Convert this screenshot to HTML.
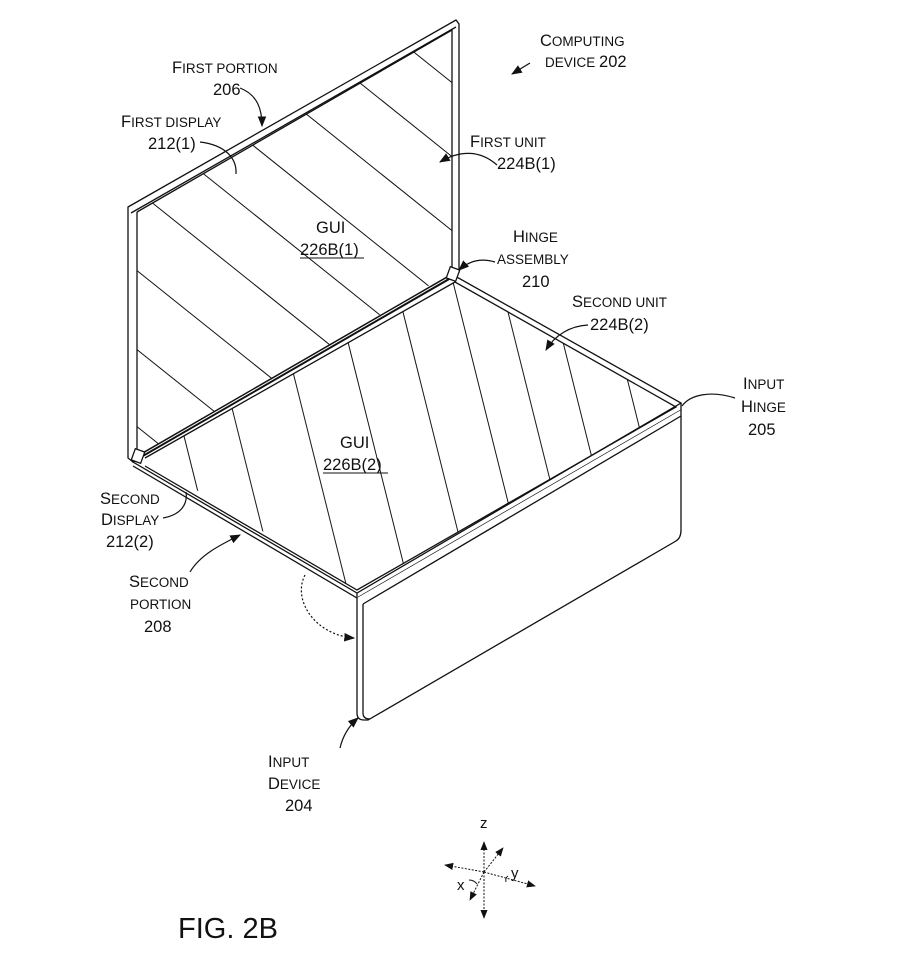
<!DOCTYPE html>
<html><head><meta charset="utf-8"><style>
html,body{margin:0;padding:0;background:#fff}
svg{display:block}
text{font-family:"Liberation Sans",sans-serif;fill:#111}
.sc{font-size:16.5px}
.s{font-size:13.5px}
</style></head><body>
<svg width="903" height="956" viewBox="0 0 903 956" xmlns="http://www.w3.org/2000/svg">
<defs>
<clipPath id="lid"><polygon points="137,212 452,30 452,272 137,458"/></clipPath>
<clipPath id="base"><polygon points="145,458 455,282 676,407 357,590"/></clipPath>
<marker id="ar" viewBox="0 0 10 10" refX="9" refY="5" markerWidth="9" markerHeight="9" orient="auto-start-reverse"><path d="M0,1 L10,5 L0,9 z" fill="#111"/></marker>
</defs>
<g stroke="#111" fill="none" stroke-width="1.3">
<polygon points="128,207 456,20 459,24 459,272 452,276 133,462 128,458" fill="#fff"/>
<polyline points="131,213 456,27"/>
<polyline points="137,212 452,30 452,272"/>
<line x1="137" y1="212" x2="137" y2="458"/>
<g clip-path="url(#lid)" stroke-width="1">
<line x1="100" y1="-199" x2="500" y2="121"/>
<line x1="100" y1="-125" x2="500" y2="195"/>
<line x1="100" y1="-51" x2="500" y2="269"/>
<line x1="100" y1="23" x2="500" y2="343"/>
<line x1="100" y1="91" x2="500" y2="411"/>
<line x1="100" y1="161" x2="500" y2="481"/>
<line x1="100" y1="241" x2="500" y2="561"/>
<line x1="100" y1="320" x2="500" y2="640"/>
<line x1="100" y1="397" x2="500" y2="717"/>
</g>
<polygon points="133,462 455,276 681,403 357,593" fill="#fff"/>
<polyline points="145,458 455,282 676,407 357,590 145,466"/>
<g clip-path="url(#base)" stroke-width="1">
<line x1="180" y1="420" x2="230" y2="620"/>
<line x1="230" y1="400" x2="290" y2="640"/>
<line x1="290" y1="360" x2="355" y2="620"/>
<line x1="345" y1="330" x2="415" y2="610"/>
<line x1="400" y1="300" x2="475" y2="600"/>
<line x1="450" y1="270" x2="535" y2="610"/>
<line x1="500" y1="280" x2="590" y2="640"/>
<line x1="550" y1="290" x2="640" y2="650"/>
<line x1="615" y1="330" x2="700" y2="670"/>
</g>
<line x1="140" y1="456" x2="453" y2="275" stroke-width="4"/>
<line x1="140" y1="456" x2="453" y2="275" stroke="#fff" stroke-width="1"/>
<rect x="448" y="268" width="10" height="12" fill="#fff" transform="rotate(20 453 274)"/>
<rect x="133" y="450" width="10" height="12" fill="#fff" transform="rotate(20 138 456)"/>
<polyline points="133,466 357,598 681,410"/>
<line x1="357" y1="593" x2="357" y2="598"/>
<line x1="681" y1="403" x2="681" y2="410"/>
<path d="M357,598 L357,713 Q357,720 364,720 L368,720 L676,541 Q681,538 681,530 L681,410" fill="#fff"/>
<path d="M363,604 L363,713 Q363,719 370,719" />
<line x1="363" y1="604" x2="681" y2="416"/>
<path d="M240,88 C258,95 262,110 262,126" marker-end="url(#ar)" stroke-width="1.2"/>
<path d="M200,142 C225,145 237,158 236,174" stroke-width="1.2"/>
<path d="M497,165 C480,150 460,150 440,162" marker-end="url(#ar)" stroke-width="1.2"/>
<path d="M530,63 L512,74" marker-end="url(#ar)" stroke-width="1.2"/>
<path d="M495,262 C482,258 470,260 459,270" marker-end="url(#ar)" stroke-width="1.2"/>
<path d="M588,325 C570,326 555,335 546,350" marker-end="url(#ar)" stroke-width="1.2"/>
<path d="M735,398 C710,390 690,395 682,406" stroke-width="1.2"/>
<path d="M163,518 C180,515 188,505 186,492" stroke-width="1.2"/>
<path d="M190,572 C200,555 220,545 240,535" marker-end="url(#ar)" stroke-width="1.2"/>
<path d="M305,575 C292,600 315,635 354,638" marker-end="url(#ar)" stroke-width="1.2" stroke-dasharray="2,2"/>
<path d="M340,748 C343,735 350,725 358,718" marker-end="url(#ar)" stroke-width="1.2"/>
<g stroke-width="1" stroke-dasharray="2,1.5">
<line x1="484" y1="872" x2="484" y2="842" marker-end="url(#ar)"/>
<line x1="484" y1="872" x2="484" y2="918" marker-end="url(#ar)"/>
<line x1="484" y1="872" x2="445" y2="865" marker-end="url(#ar)"/>
<line x1="484" y1="872" x2="535" y2="886" marker-end="url(#ar)"/>
<line x1="484" y1="872" x2="503" y2="848" marker-end="url(#ar)"/>
<line x1="484" y1="872" x2="470" y2="900" marker-end="url(#ar)"/>
</g>
<path d="M469,880 q5,0 8,4" stroke-width="1"/>
<path d="M508,876 q-3,2 -2,6" stroke-width="1"/>
</g>
<text x="540" y="46" class="sc">C<tspan class="s">OMPUTING</tspan></text>
<text x="545" y="67" class="s">DEVICE <tspan class="sc">202</tspan></text>
<text x="172" y="73" class="sc">F<tspan class="s">IRST PORTION</tspan></text>
<text x="213" y="95" class="sc">206</text>
<text x="121" y="127" class="sc">F<tspan class="s">IRST DISPLAY</tspan></text>
<text x="148" y="149" class="sc">212(1)</text>
<text x="470" y="147" class="sc">F<tspan class="s">IRST UNIT</tspan></text>
<text x="497" y="169" class="sc">224B(1)</text>
<text x="316" y="233" class="sc">GUI</text>
<text x="300" y="255" class="sc">226B(1)</text>
<line x1="300" y1="258" x2="364" y2="258" stroke="#111" stroke-width="1"/>
<text x="513" y="242" class="sc">H<tspan class="s">INGE</tspan></text>
<text x="497" y="264" class="s">ASSEMBLY</text>
<text x="522" y="287" class="sc">210</text>
<text x="572" y="307" class="sc">S<tspan class="s">ECOND UNIT</tspan></text>
<text x="590" y="330" class="sc">224B(2)</text>
<text x="743" y="389" class="sc">I<tspan class="s">NPUT</tspan></text>
<text x="741" y="412" class="sc">H<tspan class="s">INGE</tspan></text>
<text x="748" y="435" class="sc">205</text>
<text x="340" y="448" class="sc">GUI</text>
<text x="323" y="470" class="sc">226B(2)</text>
<line x1="323" y1="473" x2="388" y2="473" stroke="#111" stroke-width="1"/>
<text x="100" y="504" class="sc">S<tspan class="s">ECOND</tspan></text>
<text x="101" y="525" class="sc">D<tspan class="s">ISPLAY</tspan></text>
<text x="106" y="547" class="sc">212(2)</text>
<text x="129" y="587" class="sc">S<tspan class="s">ECOND</tspan></text>
<text x="130" y="609" class="s">PORTION</text>
<text x="144" y="632" class="sc">208</text>
<text x="268" y="767" class="sc">I<tspan class="s">NPUT</tspan></text>
<text x="268" y="789" class="sc">D<tspan class="s">EVICE</tspan></text>
<text x="285" y="811" class="sc">204</text>
<text x="480" y="828" style="font-size:15px">z</text>
<text x="457" y="890" style="font-size:15px">x</text>
<text x="511" y="878" style="font-size:15px">y</text>
<text x="178" y="938" style="font-size:29px">FIG. 2B</text>
</svg>
</body></html>
